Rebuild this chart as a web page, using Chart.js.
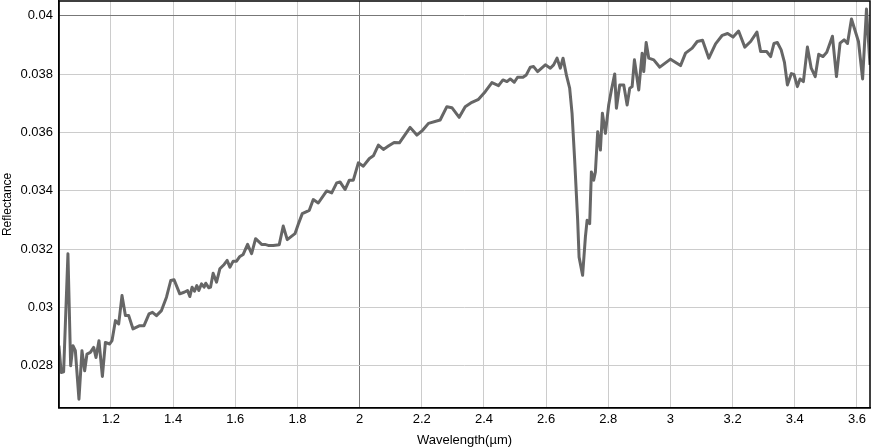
<!DOCTYPE html>
<html>
<head>
<meta charset="utf-8">
<script src="https://cdn.jsdelivr.net/npm/chart.js@4.4.1/dist/chart.umd.min.js"></script>
<style>
  html, body { margin: 0; padding: 0; background: #fff; }
  #wrap { width: 871px; height: 448px; }
</style>
</head>
<body>
<div id="wrap"><canvas id="c" width="871" height="448"></canvas></div>
<script>
// wavelength (µm) and reflectance
const wavelength = [
  1.0325, 1.0396, 1.0476, 1.0615, 1.0702, 1.0776, 1.0853, 1.0969, 1.1066, 1.1153,
  1.1227, 1.1336, 1.1443, 1.1517, 1.1613, 1.1723, 1.182, 1.1958, 1.2032, 1.2142,
  1.2248, 1.2354, 1.2464, 1.257, 1.2709, 1.2925, 1.3063, 1.3224, 1.3334, 1.3463,
  1.3624, 1.3785, 1.3923, 1.403, 1.4213, 1.4352, 1.4462, 1.4536, 1.461, 1.4687,
  1.4761, 1.4826, 1.4913, 1.4996, 1.5051, 1.5148, 1.5203, 1.5286, 1.5396, 1.5502,
  1.5641, 1.5738, 1.5825, 1.5931, 1.604, 1.6147, 1.6253, 1.6395, 1.6524, 1.6653,
  1.6846, 1.6952, 1.7059, 1.722, 1.7413, 1.7542, 1.7671, 1.7919, 1.8025, 1.8154,
  1.838, 1.8508, 1.8669, 1.894, 1.9101, 1.9262, 1.9369, 1.953, 1.9668, 1.9797,
  1.9958, 2.0119, 2.0313, 2.0442, 2.0603, 2.0764, 2.0925, 2.1109, 2.1279, 2.1624,
  2.184, 2.2033, 2.2214, 2.259, 2.2806, 2.2968, 2.3203, 2.3396, 2.3612, 2.3825,
  2.404, 2.4256, 2.4469, 2.4611, 2.474, 2.4846, 2.4975, 2.5081, 2.5255, 2.5362,
  2.5491, 2.5597, 2.5726, 2.5974, 2.6135, 2.6241, 2.6351, 2.6457, 2.6544, 2.6651,
  2.6757, 2.6834, 2.6918, 2.7015, 2.706, 2.7173, 2.7263, 2.7318, 2.7401, 2.7456,
  2.753, 2.7585, 2.7659, 2.7746, 2.781, 2.7907, 2.8013, 2.81, 2.8207, 2.8261,
  2.8368, 2.8497, 2.8606, 2.869, 2.8767, 2.8841, 2.898, 2.9089, 2.9141, 2.9218,
  2.9302, 2.9463, 2.9657, 3.0001, 3.0324, 3.0485, 3.07, 3.0861, 3.1032, 3.1235,
  3.1451, 3.1667, 3.1838, 3.2015, 3.2192, 3.2392, 3.2579, 3.2782, 3.2901, 3.3094,
  3.3223, 3.3329, 3.3439, 3.3562, 3.3668, 3.3762, 3.3891, 3.3974, 3.4084, 3.4168,
  3.4277, 3.4406, 3.4529, 3.4658, 3.477, 3.4909, 3.5029, 3.5212, 3.5341, 3.5457,
  3.5586, 3.5696, 3.5824, 3.6049, 3.6182, 3.6307, 3.642
];
const reflectance = [
  0.028686, 0.027768, 0.027792, 0.031839, 0.027998, 0.028686, 0.028514, 0.026853, 0.028514, 0.027826,
  0.0284, 0.028455, 0.028627, 0.028283, 0.028858, 0.02763, 0.028799, 0.028744, 0.028858, 0.029545,
  0.029432, 0.030405, 0.029717, 0.029717, 0.02926, 0.029373, 0.029373, 0.029776, 0.029831, 0.029717,
  0.029889, 0.030347, 0.030921, 0.030945, 0.030464, 0.030519, 0.030577, 0.030371, 0.030691, 0.030553,
  0.030749, 0.030577, 0.030808, 0.030691, 0.030828, 0.03067, 0.030691, 0.031172, 0.030863, 0.031323,
  0.031471, 0.031609, 0.031378, 0.031585, 0.031585, 0.031746, 0.031815, 0.032159, 0.031839, 0.032355,
  0.032159, 0.032159, 0.032125, 0.032125, 0.032149, 0.032788, 0.032321, 0.032527, 0.032847, 0.033215,
  0.033328, 0.033696, 0.033579, 0.033992, 0.033923, 0.034267, 0.034302, 0.03404, 0.03436, 0.03436,
  0.034955, 0.034841, 0.035106, 0.035196, 0.035564, 0.035416, 0.035529, 0.035657, 0.035643, 0.036172,
  0.035908, 0.03608, 0.03631, 0.036423, 0.036881, 0.036846, 0.036516, 0.036881, 0.037032, 0.037135,
  0.037397, 0.037706, 0.037603, 0.037799, 0.037741, 0.037833, 0.03772, 0.037892, 0.037892, 0.037971,
  0.038236, 0.038256, 0.038084, 0.038315, 0.038201, 0.038315, 0.038545, 0.038201, 0.038545, 0.037971,
  0.037514, 0.036654, 0.035048, 0.032984, 0.031722, 0.03110, 0.03241, 0.032984, 0.032871, 0.034645,
  0.03436, 0.034645, 0.036021, 0.035392, 0.036654, 0.035966, 0.036939, 0.037455, 0.038005, 0.036826,
  0.037627, 0.037627, 0.036939, 0.037514, 0.037569, 0.038487, 0.037455, 0.038717, 0.038084, 0.039082,
  0.038545, 0.038487, 0.038236, 0.038511, 0.038291, 0.038717, 0.038889, 0.039116, 0.039157, 0.038545,
  0.039037, 0.039329, 0.039391, 0.039267, 0.039474, 0.038924, 0.039116, 0.039439, 0.038772, 0.038772,
  0.0386, 0.039047, 0.039082, 0.038831, 0.038401, 0.037627, 0.038016, 0.037988, 0.037569, 0.037833,
  0.037741, 0.038924, 0.038201, 0.037913, 0.038676, 0.0386, 0.038745, 0.039295, 0.037913, 0.039061,
  0.039175, 0.039047, 0.039887, 0.039116, 0.037833, 0.04023, 0.038315
];

const xMin = 1.0325, xMax = 3.642;
const yMin = 0.026556, yMax = 0.040505;

const points = wavelength.map((w, i) => ({ x: w, y: reflectance[i] }));

function trimNum(v, d) {
  return String(+v.toFixed(d));
}

// top/right frame lines like the original plot box
const frame = {
  id: "frame",
  afterDraw(chart) {
    const a = chart.chartArea;
    const ctx = chart.ctx;
    ctx.save();
    ctx.strokeStyle = "#000";
    ctx.lineWidth = 1.5;
    ctx.strokeRect(a.left, a.top, a.right - a.left, a.bottom - a.top);
    ctx.restore();
  },
};

const tickFont = { family: "Liberation Sans, Arial, sans-serif", size: 13 };

new Chart(document.getElementById("c"), {
  type: "line",
  data: {
    datasets: [
      {
        data: points,
        borderColor: "#666666",
        borderWidth: 3,
        borderJoinStyle: "round",
        pointRadius: 0,
        tension: 0,
        fill: false,
      },
    ],
  },
  options: {
    responsive: false,
    animation: false,
    layout: { padding: { top: 1, right: 1, left: 0, bottom: 0 } },
    plugins: { legend: { display: false }, tooltip: { enabled: false } },
    scales: {
      x: {
        type: "linear",
        min: xMin,
        max: xMax,
        border: { color: "#000", width: 1.5 },
        grid: {
          drawTicks: false,
          color: (c) => (c.tick && Math.abs(c.tick.value - 2) < 1e-6 ? "#777" : "#cccccc"),
        },
        ticks: {
          stepSize: 0.2,
          includeBounds: false,
          padding: 4,
          color: "#000",
          font: tickFont,
          maxRotation: 0,
          callback: (v) => trimNum(v, 1),
        },
        title: {
          display: true,
          text: "Wavelength(µm)",
          color: "#000",
          font: tickFont,
          padding: { top: 1, bottom: 0 },
        },
      },
      y: {
        min: yMin,
        max: yMax,
        border: { color: "#000", width: 1.5 },
        grid: {
          drawTicks: false,
          color: (c) => (c.tick && Math.abs(c.tick.value - 0.04) < 1e-9 ? "#777" : "#cccccc"),
        },
        ticks: {
          stepSize: 0.002,
          includeBounds: false,
          padding: 6,
          color: "#000",
          font: tickFont,
          callback: (v) => trimNum(v, 3),
        },
        title: {
          display: true,
          text: "Reflectance",
          color: "#000",
          font: { family: "Liberation Sans, Arial, sans-serif", size: 12 },
          padding: { top: 0, bottom: 0 },
        },
        afterFit: (scale) => {
          scale.paddingTop = 0;
          scale.paddingBottom = 0;
        },
      },
    },
  },
  plugins: [frame],
});
</script>
</body>
</html>
